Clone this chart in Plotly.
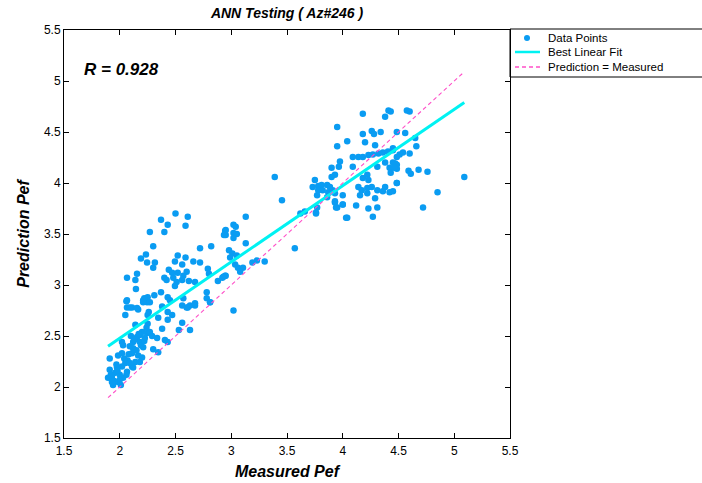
import plotly.graph_objects as go

# Measured (x) and predicted (y) Pef values
measured = [
    2.06, 2.065, 2.11, 2.165, 2.05, 2.26, 2.25, 2.38, 2.43, 2.47, 2.43, 2.345, 2.245, 2.21, 2.14,
    2.56, 2.53, 2.63, 2.675, 2.61, 2.56, 2.81, 2.38, 2.20, 2.245, 2.18, 2.155, 2.225, 2.27,
    2.335, 2.405, 2.43, 2.12, 2.18, 2.02, 2.03, 2.12, 2.21, 2.30, 2.345, 2.11, 2.165, 2.20,
    1.985, 1.91, 2.07, 2.14, 2.18, 2.05, 2.11, 2.02, 1.975, 1.91, 1.96, 1.93, 2.00, 2.03,
    1.985, 1.94, 2.00, 1.895, 2.065, 2.12, 2.09,
    1.95, 1.92, 1.97, 2.04, 2.08, 2.15, 2.19, 2.22, 2.13, 2.17, 2.24, 2.29, 2.09, 2.02, 1.98,
    2.06, 1.93, 2.01, 2.25, 2.10,
    2.50, 2.61, 2.37, 2.43, 2.59, 2.27, 2.40, 2.30, 2.72, 2.82, 2.95, 2.95, 2.235, 2.19, 2.245,
    2.52, 2.59, 2.495, 2.56, 2.66, 2.72, 2.315, 2.30, 2.44, 2.47, 2.52, 2.60, 2.57, 2.79, 2.80,
    2.155, 2.14, 2.065, 2.40, 2.42, 2.48, 2.51, 2.56, 2.62, 2.675, 2.495, 2.145, 2.37, 2.31,
    2.25, 2.22, 2.21, 2.27, 2.43, 2.45, 2.57, 2.78, 2.78, 2.81, 2.88, 2.93, 2.95, 2.065, 2.09,
    2.155, 2.63, 2.675, 2.60,
    3.455, 3.13, 3.02, 3.04, 2.945, 2.935, 3.02, 3.05, 3.02, 3.13, 2.98, 3.01, 2.99, 3.05, 3.57,
    3.035, 3.06, 3.105, 3.08, 3.19, 3.23, 3.30, 2.945, 2.92, 3.02, 3.62, 3.76, 3.77, 3.77, 3.86,
    3.93, 3.95, 4.00, 4.03, 4.00, 3.39,
    4.41, 4.38, 4.18, 3.95, 4.26, 4.28, 4.18, 4.34, 4.04, 4.20, 3.95, 4.29, 4.485,
    4.09, 4.14, 4.18, 4.23, 4.27, 4.32, 4.36, 4.405, 4.45, 3.975, 3.965, 3.90, 3.93, 3.90,
    4.09, 4.31, 4.38, 4.42, 4.47, 4.485, 3.75, 3.73, 3.78, 3.81, 3.86, 3.885, 3.82, 3.78, 3.87,
    3.91, 3.93, 4.22, 4.18, 4.23, 4.14, 4.17, 4.22, 4.26, 4.31, 4.22, 4.38, 4.36, 4.42, 4.485,
    4.29, 4.155, 3.93, 4.00, 3.94, 4.12, 4.31, 4.23, 3.76, 3.66, 4.04, 4.27,
    4.575, 4.60, 4.43, 4.56, 4.65, 4.66, 4.45, 4.54, 4.51, 4.485, 4.60, 4.45, 4.485, 4.46,
    4.59, 4.61, 4.68, 4.76, 4.43, 4.485, 4.45, 4.85, 4.72, 5.09,
]
predicted = [
    2.84, 2.78, 2.78, 2.76, 2.705, 2.735, 2.705, 2.79, 2.735, 2.705, 2.66, 2.68, 2.83, 2.85, 2.61,
    2.63, 2.56, 2.56, 2.80, 2.78, 2.80, 2.83, 2.57, 2.54, 2.53, 2.51, 2.49, 2.48, 2.54,
    2.48, 2.46, 2.44, 2.44, 2.44, 2.44, 2.41, 2.38, 2.39, 2.37, 2.34, 2.33, 2.31, 2.29,
    2.31, 2.28, 2.26, 2.245, 2.245, 2.235, 2.20, 2.20, 2.19, 2.17, 2.14, 2.10, 2.12, 2.09,
    2.05, 2.02, 2.07, 2.09, 2.15, 2.19, 2.235,
    2.06, 2.12, 2.22, 2.28, 2.32, 2.36, 2.41, 2.45, 2.46, 2.52, 2.58, 2.50, 2.40, 2.33, 2.16,
    2.12, 2.05, 2.02, 2.62, 2.50,
    3.70, 3.67, 3.64, 3.59, 3.58, 3.52, 3.52, 3.38, 3.36, 3.38, 3.54, 3.49, 3.30, 3.26, 3.22,
    3.29, 3.27, 3.23, 3.20, 3.23, 3.22, 3.22, 3.17, 3.15, 3.12, 3.12, 3.13, 3.09, 3.16, 3.11,
    3.11, 3.05, 3.07, 3.07, 3.05, 3.07, 3.03, 3.05, 3.04, 3.03, 2.99, 2.96, 2.93, 2.90,
    2.88, 2.87, 2.83, 2.83, 2.88, 2.85, 2.87, 2.93, 2.87, 2.83, 3.04, 3.08, 3.09, 2.85, 2.78,
    2.775, 2.80, 2.82, 2.78,
    3.83, 3.67, 3.59, 3.57, 3.53, 3.49, 3.51, 3.50, 3.46, 3.41, 3.34, 3.31, 3.27, 3.29, 3.36,
    3.20, 3.17, 3.17, 3.13, 3.22, 3.24, 3.23, 3.09, 3.07, 2.75, 3.70, 3.70, 3.76, 3.88, 3.86,
    3.81, 3.76, 3.79, 3.66, 3.88, 4.06,
    4.71, 4.65, 4.68, 4.55, 4.51, 4.48, 4.48, 4.50, 4.41, 4.40, 4.36, 4.37, 4.50,
    4.255, 4.255, 4.255, 4.275, 4.28, 4.29, 4.30, 4.31, 4.32, 4.21, 4.16, 4.15, 4.08, 4.06,
    4.16, 4.16, 4.20, 4.15, 4.19, 4.14, 4.03, 3.96, 3.97, 3.98, 3.98, 3.96, 3.93, 3.93, 3.91,
    3.93, 3.90, 4.08, 4.05, 4.03, 3.96, 3.93, 3.95, 3.96, 3.93, 3.90, 3.96, 3.92, 3.91, 4.00,
    3.85, 3.88, 3.82, 3.79, 3.76, 3.78, 3.76, 3.75, 3.71, 3.72, 3.66, 3.67,
    4.71, 4.70, 4.70, 4.49, 4.44, 4.36, 4.34, 4.30, 4.28, 4.255, 4.29, 4.20, 4.18, 4.15,
    4.12, 4.09, 4.13, 4.11, 4.10, 4.00, 3.92, 3.91, 3.76, 4.06,
]

# Best linear fit endpoints and identity line endpoints
fit_x = [1.895, 5.09]
fit_y = [2.40, 4.79]
ident_x = [1.895, 5.09]
ident_y = [1.895, 5.09]

tick_vals = [1.5, 2, 2.5, 3, 3.5, 4, 4.5, 5, 5.5]
tick_text = ["1.5", "2", "2.5", "3", "3.5", "4", "4.5", "5", "5.5"]

legend_labels = ["Data Points", "Best Linear Fit", "Prediction = Measured"]

FONT = "Liberation Sans, Arial, sans-serif"
PT_COLOR = "#0A9CF2"
FIT_COLOR = "#00F2F2"
ID_COLOR = "#FF4FC8"

fig = go.Figure()
fig.add_trace(go.Scatter(
    x=measured, y=predicted, mode="markers", name=legend_labels[0],
    marker=dict(color=PT_COLOR, size=6.5, line=dict(width=0)),
))
fig.add_trace(go.Scatter(
    x=fit_x, y=fit_y, mode="lines", name=legend_labels[1],
    line=dict(color=FIT_COLOR, width=3),
))
fig.add_trace(go.Scatter(
    x=ident_x, y=ident_y, mode="lines", name=legend_labels[2],
    line=dict(color=ID_COLOR, width=1.1, dash="4px,3px"),
))

axis_common = dict(
    range=[1.5, 5.5], tickmode="array", tickvals=tick_vals, ticktext=tick_text,
    showgrid=False, zeroline=False, showline=True, linecolor="black", linewidth=1,
    mirror="ticks", ticks="inside", ticklen=5, tickcolor="black", tickwidth=1,
    tickfont=dict(family=FONT, size=12, color="black"), automargin=False,
)

# legend drawn as a boxed key to the right of the axes (paper coordinates)
L, R_, T, B = 64, 510, 30, 438
def px(xp):
    return (xp - L) / (R_ - L)
def py(yp):
    return (B - yp) / (B - T)

row_y = [38, 52, 67]
annotations = [dict(
    x=1.66, y=5.11, xref="x", yref="y", xanchor="left", yanchor="middle",
    text="<b><i>R = 0.928</i></b>", showarrow=False,
    font=dict(family=FONT, size=17, color="black"),
)]
for lab, ry in zip(legend_labels, row_y):
    annotations.append(dict(
        x=px(546), y=py(ry), xref="paper", yref="paper", xanchor="left", yanchor="middle",
        text=lab, showarrow=False, font=dict(family=FONT, size=11.5, color="black"),
    ))

shapes = [
    dict(type="rect", xref="paper", yref="paper", x0=1.0, x1=1.45, y0=py(77), y1=py(29),
         line=dict(color="black", width=1), fillcolor="rgba(0,0,0,0)", layer="above"),
    dict(type="circle", xref="paper", yref="paper", x0=px(524), x1=px(530), y0=py(41), y1=py(35),
         line=dict(width=0), fillcolor=PT_COLOR),
    dict(type="line", xref="paper", yref="paper", x0=px(515), x1=px(540), y0=py(row_y[1]), y1=py(row_y[1]),
         line=dict(color=FIT_COLOR, width=2.5)),
    dict(type="line", xref="paper", yref="paper", x0=px(515), x1=px(540), y0=py(row_y[2]), y1=py(row_y[2]),
         line=dict(color=ID_COLOR, width=1.5, dash="4px,3px")),
]

fig.update_layout(
    width=702, height=483,
    margin=dict(l=L, r=702 - R_, t=T, b=483 - B, autoexpand=False),
    paper_bgcolor="white", plot_bgcolor="white",
    title=dict(text="<b><i>ANN Testing ( Az#246 )</i></b>", x=(L + R_) / 2 / 702, xanchor="center",
               y=1 - 13 / 483, yanchor="middle", font=dict(family=FONT, size=14, color="black")),
    xaxis=dict(axis_common, ticklabelstandoff=2,
               title=dict(text="<b><i>Measured Pef</i></b>", standoff=8,
                          font=dict(family=FONT, size=16, color="black"))),
    yaxis=dict(axis_common, title=dict(text="<b><i>Prediction Pef</i></b>", standoff=10,
                                       font=dict(family=FONT, size=16, color="black"))),
    showlegend=False,
    annotations=annotations,
    shapes=shapes,
)

fig.write_html("out.html")
